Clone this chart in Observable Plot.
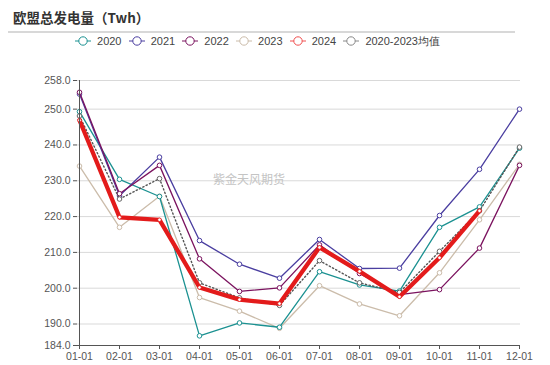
<!DOCTYPE html>
<html>
<head>
<meta charset="utf-8">
<script src="https://cdn.jsdelivr.net/npm/d3@7"></script>
<script src="https://cdn.jsdelivr.net/npm/@observablehq/plot@0.6"></script>
<style>
  html, body { margin: 0; padding: 0; background: #fff; }
  body { width: 550px; height: 365px; position: relative; overflow: hidden; font-family: "Liberation Sans", Arial, sans-serif; }
  #title { position: absolute; left: 13px; top: 7px; font-size: 13.5px; font-weight: bold; color: #333; font-family: "Noto Sans CJK SC", sans-serif; }
  #rule { position: absolute; left: 8px; top: 31px; width: 507px; height: 2px; background: #d8d8d8; }
  #legend { position: absolute; left: 0; top: 33px; width: 515px; display: flex; justify-content: center; font-size: 11px; color: #444; line-height: 16px; }
  #legend .item { display: flex; align-items: center; margin: 0 3.6px; }
  #legend svg { margin-right: 6px; }
  #wm { position: absolute; left: 213px; top: 170px; font-size: 12px; color: #c4c4c4; font-family: "Noto Sans CJK SC", sans-serif; }
  #chart { position: absolute; left: 0; top: 50px; }
</style>
</head>
<body>
<div id="title">欧盟总发电量（Twh）</div>
<div id="rule"></div>
<div id="legend"></div>
<div id="chart"></div>
<div id="wm">紫金天风期货</div>
<script>
const months = ["01-01","02-01","03-01","04-01","05-01","06-01","07-01","08-01","09-01","10-01","11-01","12-01"];
const s2020 = [249.3, 230.4, 225.6, 186.7, 190.3, 189.1, 204.6, 200.9, 199.2, 217.0, 222.7, 239.1];
const s2021 = [254.2, 225.8, 236.6, 213.3, 206.7, 202.8, 213.6, 205.5, 205.6, 220.3, 233.2, 250.0];
const s2022 = [254.7, 226.4, 234.3, 208.2, 199.1, 200.1, 212.1, 204.1, 198.2, 199.6, 211.2, 234.3];
const s2023 = [234.1, 217.0, 225.7, 197.4, 193.6, 188.8, 200.7, 195.6, 192.3, 204.3, 219.1, 234.6];
const s2024 = [246.9, 219.8, 219.1, 200.2, 196.8, 195.7, 211.4, 204.7, 197.6, 208.5, 221.6];
const sAvg  = [248.1, 224.9, 230.6, 201.5, 197.3, 195.2, 207.7, 201.5, 198.8, 210.3, 221.6, 239.4];
const yTicks = [184, 190, 200, 210, 220, 230, 240, 250, 258];

const seriesNames = ["2020","2021","2022","2023","2024","2020-2023均值"];
const seriesVals = [s2020, s2021, s2022, s2023, s2024, sAvg];
const colors = ["#1b9191","#4a3ea0","#7b135f","#cbbcaa","#e31b1b","#6e6e6e"];

const rows = [];
seriesNames.forEach((name, i) => {
  seriesVals[i].forEach((v, j) => rows.push({series: name, month: months[j], value: v}));
});
const sel = n => rows.filter(r => r.series === n);

// legend
const leg = document.getElementById("legend");
seriesNames.forEach((n, i) => {
  const c = i === 4 ? "#f05050" : (i === 5 ? "#888" : colors[i]);
  const d = document.createElement("div");
  d.className = "item";
  d.innerHTML = `<svg width="16" height="12"><line x1="0" y1="6" x2="16" y2="6" stroke="${c}" stroke-width="1"/><circle cx="8" cy="6" r="4.2" fill="#fff" stroke="${c}" stroke-width="1"/></svg><span>${n}</span>`;
  leg.appendChild(d);
});

const marks = [
  Plot.gridY(yTicks.filter(t => t !== 184), {stroke: "#d9d9d9", strokeOpacity: 1, strokeWidth: 1}),
];
["2023","2020","2021","2022"].forEach(n => {
  const c = colors[seriesNames.indexOf(n)];
  marks.push(Plot.line(sel(n), {x: "month", y: "value", stroke: c, strokeWidth: 1.3}));
  marks.push(Plot.dot(sel(n), {x: "month", y: "value", r: 2.3, fill: "#fff", stroke: c, strokeWidth: 1}));
});
marks.push(Plot.line(sel("2020-2023均值"), {x: "month", y: "value", stroke: "#555", strokeWidth: 1.4, strokeDasharray: "1.3,2.4"}));
marks.push(Plot.dot(sel("2020-2023均值"), {x: "month", y: "value", r: 2.3, fill: "#fff", stroke: "#666", strokeWidth: 1}));
marks.push(Plot.line(sel("2024"), {x: "month", y: "value", stroke: "#e31b1b", strokeWidth: 4.3}));
marks.push(Plot.dot(sel("2024"), {x: "month", y: "value", r: 1.8, fill: "#fff", stroke: "#e31b1b", strokeWidth: 0.8}));
marks.push(Plot.axisY({ticks: yTicks, tickFormat: d3.format(".1f"), tickSize: 4, tickPadding: 3, stroke: "#555", color: "#555", fontSize: 10.5}));
marks.push(Plot.axisX({tickSize: 4, tickPadding: 3, stroke: "#555", color: "#555", fontSize: 10.5}));
marks.push(Plot.ruleX([months[0]], {stroke: "#555"}));
marks.push(Plot.ruleY([184], {stroke: "#555"}));

const chart = Plot.plot({
  width: 550,
  height: 315,
  marginLeft: 77,
  marginRight: 30,
  marginTop: 30,
  marginBottom: 20,
  style: {fontFamily: "'Liberation Sans', Arial, sans-serif", background: "#fff"},
  x: {type: "point", domain: months, padding: 0, label: null},
  y: {domain: [184, 258], label: null},
  marks
});
document.getElementById("chart").appendChild(chart);
</script>
</body>
</html>
